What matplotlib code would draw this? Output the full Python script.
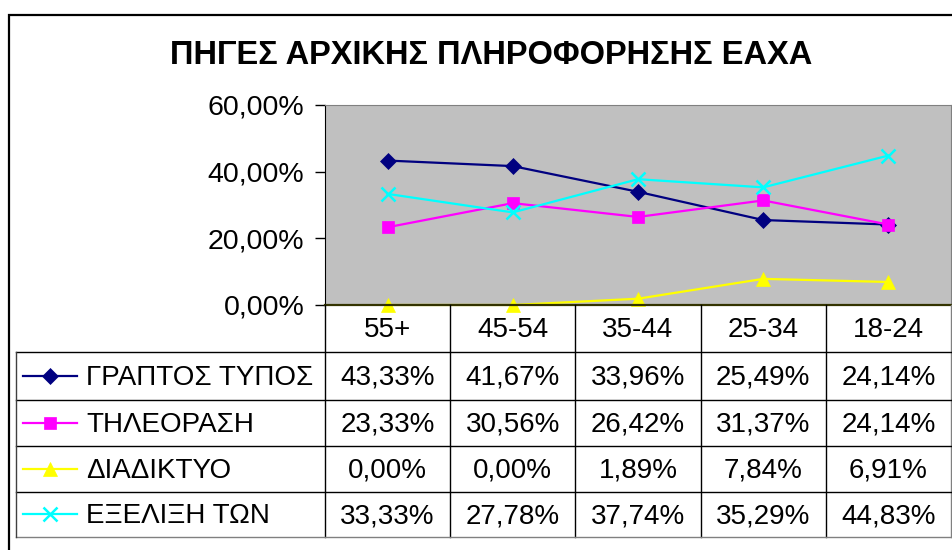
import numpy as np
import matplotlib
matplotlib.use('Agg')
import matplotlib.pyplot as plt
from matplotlib.patches import Rectangle

plt.rcParams['font.family'] = ['Liberation Sans', 'DejaVu Sans']

# data
title = 'ΠΗΓΕΣ ΑΡΧΙΚΗΣ ΠΛΗΡΟΦΟΡΗΣΗΣ ΕΑΧΑ'
categories = ['55+', '45-54', '35-44', '25-34', '18-24']
series_names = ['ΓΡΑΠΤΟΣ ΤΥΠΟΣ', 'ΤΗΛΕΟΡΑΣΗ', 'ΔΙΑΔΙΚΤΥΟ', 'ΕΞΕΛΙΞΗ ΤΩΝ']
grapt_typos = [43.33, 41.67, 33.96, 25.49, 24.14]
tileorasi = [23.33, 30.56, 26.42, 31.37, 24.14]
diadiktyo = [0.00, 0.00, 1.89, 7.84, 6.91]
exelixi = [33.33, 27.78, 37.74, 35.29, 44.83]
yticks = [0, 20, 40, 60]

series = [grapt_typos, tileorasi, diadiktyo, exelixi]
colors = ['#000080', '#FF00FF', '#FFFF00', '#00FFFF']
markers = ['D', 's', '^', 'x']
msizes = [8, 8.5, 10, 10]

W, H = 953, 550
FS = 20
fig = plt.figure(figsize=(W / 100, H / 100), dpi=100)


def fx(px):
    return px / W


def fy(py):
    return 1 - py / H


def pct(v):
    return ('%.2f' % v).replace('.', ',') + '%'


# outer frame (cut off on the right / bottom)
fig.patches.append(Rectangle((fx(9), fy(600)), 1.2, fy(15) - fy(600), transform=fig.transFigure,
                             fill=False, edgecolor='black', linewidth=1.6))

fig.text(fx(491), fy(56), title, ha='center', va='center', fontsize=23.5, fontweight='bold')

# plot area
px_left, px_right, px_top, px_bot = 325, 951, 105, 305
ax = fig.add_axes([fx(px_left), fy(px_bot), fx(px_right - px_left), fy(px_top) - fy(px_bot)])
ax.set_facecolor('#C0C0C0')
x = np.arange(len(categories))
for vals, c, m, ms in zip(series, colors, markers, msizes):
    ax.plot(x, vals, color=c, marker=m, markersize=ms, linewidth=1.6,
            markeredgewidth=1.8 if m == 'x' else 0.5, markeredgecolor=c, clip_on=False)
ax.set_xlim(-0.5, len(categories) - 0.5)
ax.set_ylim(0, 60)
ax.set_yticks(yticks)
ax.set_yticklabels([pct(v) for v in yticks], fontsize=20.5)
ax.set_xticks([])
ax.tick_params(axis='y', direction='out', length=7, width=1, pad=8)
for s in ['top', 'right']:
    ax.spines[s].set_color('#808080')
ax.spines['left'].set_color('black')
ax.spines['bottom'].set_color('#333300')
ax.spines['bottom'].set_linewidth(1.6)

# data table below
col_w = (px_right - px_left) / len(categories)
tb_left, tb_bot = 16, 537
row_edges = [305, 352, 400, 446, 492, 537]
tab = fig.add_axes([fx(tb_left), fy(tb_bot), fx(px_right - tb_left), fy(305) - fy(tb_bot)])
xl = -0.5 - (px_left - tb_left) / col_w
xr = len(categories) - 0.5
tab.set_xlim(xl, xr)
tab.set_ylim(tb_bot, 305)
tab.axis('off')

# grid
for i in range(len(categories) + 1):
    c = '#808080' if i == len(categories) else 'black'
    tab.plot([i - 0.5, i - 0.5], [305, tb_bot], color=c, lw=1, clip_on=False)
for yv in row_edges[1:]:
    c = '#808080' if yv == tb_bot else 'black'
    tab.plot([xl, xr], [yv, yv], color=c, lw=1, clip_on=False)
tab.plot([xl, xl], [row_edges[1], tb_bot], color='#404040', lw=1, clip_on=False)

for i, cat in enumerate(categories):
    tab.text(i, (row_edges[0] + row_edges[1]) / 2 + 2, cat, ha='center', va='center', fontsize=FS)

key_x0 = xl + (23 - tb_left) / col_w
key_x1 = xl + (77 - tb_left) / col_w
lab_x = xl + (86 - tb_left) / col_w
for r, (name, vals, c, m, ms) in enumerate(zip(series_names, series, colors, markers, msizes)):
    yc = (row_edges[r + 1] + row_edges[r + 2]) / 2
    tab.plot([key_x0, key_x1], [yc, yc], color=c, lw=1.6, clip_on=False)
    tab.plot([(key_x0 + key_x1) / 2], [yc], color=c, marker=m, markersize=ms,
             markeredgewidth=1.8 if m == 'x' else 0.5, markeredgecolor=c, clip_on=False)
    tab.text(lab_x, yc + 2, name, ha='left', va='center', fontsize=FS)
    for i, v in enumerate(vals):
        tab.text(i, yc + 2, pct(v), ha='center', va='center', fontsize=FS)

fig.savefig('out.png', dpi=100)
